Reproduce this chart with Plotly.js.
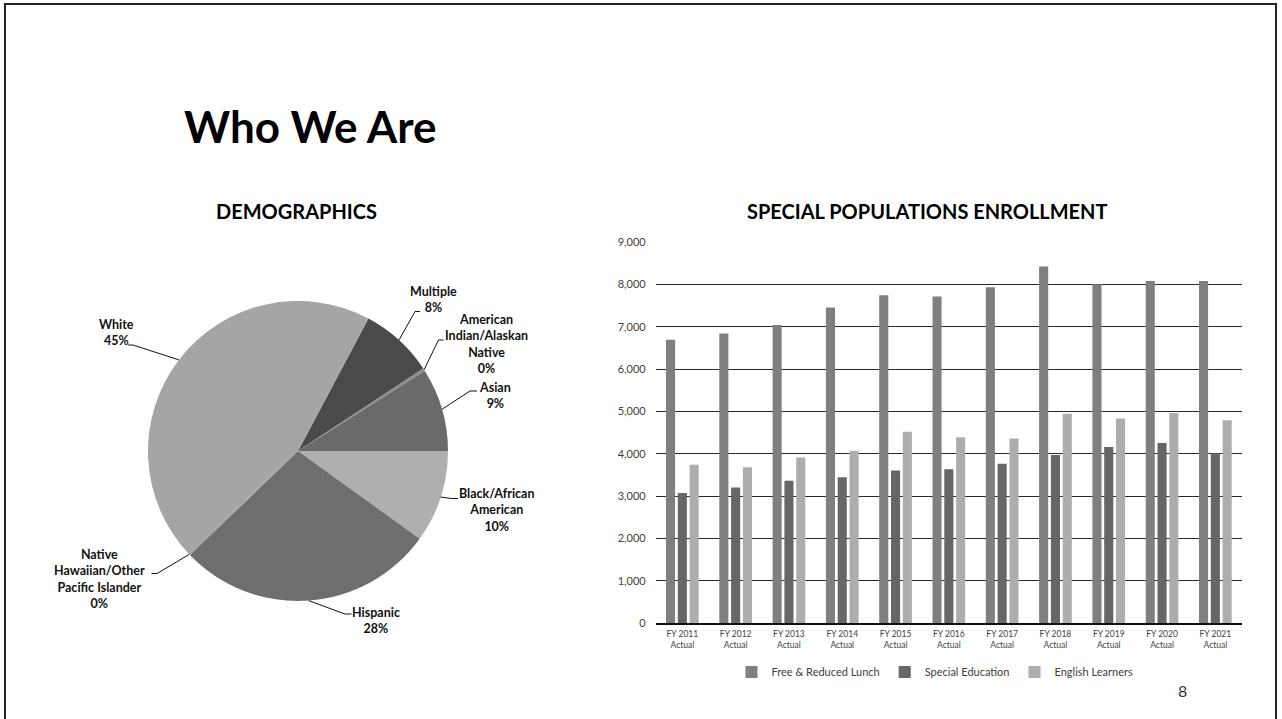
<!DOCTYPE html>
<html>
<head>
<meta charset="utf-8">
<script src="https://cdn.plot.ly/plotly-3.0.1.min.js"></script>
<style>html,body{margin:0;padding:0;background:#fff;}#chart{width:1282px;height:719px;}</style>
</head>
<body>
<div id="chart"></div>
<script>
// ---- Data ----
var pieLabels = ['Multiple', 'American Indian/Alaskan Native', 'Asian', 'Black/African American', 'Hispanic', 'Native Hawaiian/Other Pacific Islander', 'White'];
var pieLabelLines = ['Multiple', 'American<br>Indian/Alaskan<br>Native', 'Asian', 'Black/African<br>American', 'Hispanic', 'Native<br>Hawaiian/Other<br>Pacific Islander', 'White'];
var pieValues = [8, 0.3, 9, 10, 28, 0.2, 45];
var pieColors = ['#4a4a4a', '#8c8c8c', '#6a6a6a', '#afafaf', '#6e6e6e', '#9a9a9a', '#a5a5a5'];

var years = ['FY 2011<br>Actual', 'FY 2012<br>Actual', 'FY 2013<br>Actual', 'FY 2014<br>Actual', 'FY 2015<br>Actual', 'FY 2016<br>Actual', 'FY 2017<br>Actual', 'FY 2018<br>Actual', 'FY 2019<br>Actual', 'FY 2020<br>Actual', 'FY 2021<br>Actual'];
var freeReducedLunch = [6690, 6840, 7040, 7450, 7740, 7710, 7930, 8420, 8000, 8080, 8080];
var specialEducation = [3070, 3200, 3360, 3440, 3600, 3630, 3760, 3970, 4160, 4250, 4010];
var englishLearners = [3740, 3680, 3910, 4070, 4520, 4390, 4360, 4940, 4830, 4960, 4790];
var seriesNames = ['Free & Reduced Lunch', 'Special Education', 'English Learners'];
var seriesColors = ['#7f7f7f', '#666666', '#adadad'];

// ---- Layout helpers (pixel -> paper) ----
var W = 1282, H = 719;
function px(x) { return x / W; }
function py(y) { return 1 - y / H; }

var FONT = 'Lato, "Open Sans", sans-serif';
var pieCx = 298, pieCy = 451, pieR = 150, pieRotation = 28;

// label block centre and leader-line elbow/stub (pixel layout for each label)
var labelLayout = [
  {tx: 433, ty: 299, elbow: [415, 311.5], stub: [420, 311.5]},
  {tx: 486, ty: 344, elbow: [438.5, 340], stub: [443.5, 340]},
  {tx: 495, ty: 395, elbow: [470, 391], stub: [477, 391]},
  {tx: 497, ty: 509.5, elbow: [451.5, 498.5], stub: [458, 498.5]},
  {tx: 376, ty: 620, elbow: [345, 614], stub: [351.5, 614]},
  {tx: 99, ty: 579, elbow: [157, 573.5], stub: [151.5, 573.5]},
  {tx: 116, ty: 332.5, elbow: [133, 345], stub: [128, 345]}
];

var total = pieValues.reduce(function (a, b) { return a + b; }, 0);

var traces = [{
  type: 'pie',
  labels: pieLabels,
  values: pieValues,
  sort: false,
  direction: 'clockwise',
  rotation: pieRotation,
  textinfo: 'none',
  textposition: 'none',
  hoverinfo: 'label+percent',
  marker: {colors: pieColors, line: {width: 0}},
  domain: {x: [px(pieCx - pieR), px(pieCx + pieR)], y: [py(pieCy + pieR), py(pieCy - pieR)]},
  showlegend: false
}];

var barData = [freeReducedLunch, specialEducation, englishLearners];
for (var s = 0; s < 3; s++) {
  traces.push({
    type: 'bar',
    x: years,
    y: barData[s],
    name: seriesNames[s],
    marker: {color: seriesColors[s]},
    xaxis: 'x',
    yaxis: 'y'
  });
}

var annotations = [
  {text: 'Who We Are', x: px(182), y: py(126), xref: 'paper', yref: 'paper', xanchor: 'left', yanchor: 'middle', showarrow: false,
   font: {family: FONT, size: 44, color: '#000', weight: 'bold'}},
  {text: 'DEMOGRAPHICS', x: px(296), y: py(211), xref: 'paper', yref: 'paper', xanchor: 'center', yanchor: 'middle', showarrow: false,
   font: {family: FONT, size: 20, color: '#000', weight: 'bold'}},
  {text: 'SPECIAL POPULATIONS ENROLLMENT', x: px(927), y: py(211), xref: 'paper', yref: 'paper', xanchor: 'center', yanchor: 'middle', showarrow: false,
   font: {family: FONT, size: 20, color: '#000', weight: 'bold'}},
  {text: '8', x: px(1182), y: py(690), xref: 'paper', yref: 'paper', xanchor: 'center', yanchor: 'middle', showarrow: false,
   font: {family: FONT, size: 16, color: '#333'}}
];

var shapes = [
  {type: 'rect', xref: 'paper', yref: 'paper', x0: px(5), x1: px(1276), y0: py(730), y1: py(4),
   line: {color: '#222', width: 2}, fillcolor: 'rgba(0,0,0,0)'}
];

// pie labels + leader lines: tip from the data (slice mid-angle)
var cum = 0;
for (var i = 0; i < pieValues.length; i++) {
  var mid = pieRotation * Math.PI / 180 + (cum + pieValues[i] / 2) / total * 2 * Math.PI;
  cum += pieValues[i];
  var tipX = pieCx + pieR * Math.sin(mid);
  var tipY = pieCy - pieR * Math.cos(mid);
  var L = labelLayout[i];
  var pct = Math.round(pieValues[i] / total * 100) + '%';
  annotations.push({
    text: pieLabelLines[i] + '<br>' + pct,
    x: px(L.tx), y: py(L.ty), xref: 'paper', yref: 'paper', xanchor: 'center', yanchor: 'middle',
    showarrow: false, align: 'center',
    font: {family: FONT, size: 12.5, color: '#111', weight: 'bold'}
  });
  shapes.push({
    type: 'path', xref: 'paper', yref: 'paper',
    path: 'M' + px(tipX) + ',' + py(tipY) + ' L' + px(L.elbow[0]) + ',' + py(L.elbow[1]) + ' L' + px(L.stub[0]) + ',' + py(L.stub[1]),
    line: {color: '#111', width: 1}
  });
}

var layout = {
  width: W, height: H,
  margin: {l: 0, r: 0, t: 0, b: 0},
  paper_bgcolor: '#fff', plot_bgcolor: '#fff',
  font: {family: FONT, color: '#404040'},
  barmode: 'group',
  bargap: 0.336,
  bargroupgap: 0.23,
  xaxis: {
    domain: [px(655.7), px(1242)],
    type: 'category',
    showgrid: false,
    showline: true, linecolor: '#111', linewidth: 1.5,
    ticks: '',
    tickfont: {family: FONT, size: 8.5, color: '#404040'},
    ticklabelstandoff: 2,
    fixedrange: true
  },
  yaxis: {
    domain: [py(623), py(242)],
    range: [0, 9000],
    dtick: 1000,
    tickformat: ',d',
    showgrid: true, gridcolor: '#2a2a2a', gridwidth: 1,
    zeroline: false,
    showline: false,
    ticks: '',
    tickfont: {family: FONT, size: 11, color: '#404040'},
    ticklabelstandoff: 9,
    fixedrange: true
  },
  showlegend: true,
  legend: {
    orientation: 'h', x: px(935), xanchor: 'center', y: py(672), yanchor: 'middle',
    font: {family: FONT, size: 11, color: '#404040'},
    itemwidth: 30, traceorder: 'normal', bgcolor: 'rgba(0,0,0,0)'
  },
  annotations: annotations,
  shapes: shapes
};

Plotly.newPlot('chart', traces, layout, {displayModeBar: false, staticPlot: true});
</script>
</body>
</html>
